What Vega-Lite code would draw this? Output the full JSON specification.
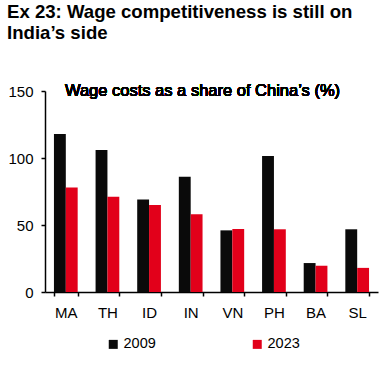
{
  "$schema": "https://vega.github.io/schema/vega-lite/v6.json",
  "width": 333,
  "height": 201,
  "autosize": {"type": "none"},
  "padding": {"left": 45, "top": 91, "right": 11, "bottom": 74},
  "background": "white",
  "title": {
    "text": ["Ex 23: Wage competitiveness is still on", "India’s side"],
    "anchor": "start",
    "frame": "group",
    "orient": "top",
    "font": "Liberation Sans",
    "fontSize": 18.6,
    "fontWeight": "bold",
    "lineHeight": 21,
    "color": "black",
    "dx": -38,
    "offset": 40
  },
  "config": {
    "view": {"stroke": null},
    "font": "Liberation Sans"
  },
  "data": {
    "values": [
      {"country": "MA", "year": "2009", "value": 118},
      {"country": "MA", "year": "2023", "value": 78},
      {"country": "TH", "year": "2009", "value": 106},
      {"country": "TH", "year": "2023", "value": 71},
      {"country": "ID", "year": "2009", "value": 69},
      {"country": "ID", "year": "2023", "value": 65},
      {"country": "IN", "year": "2009", "value": 86},
      {"country": "IN", "year": "2023", "value": 58},
      {"country": "VN", "year": "2009", "value": 46},
      {"country": "VN", "year": "2023", "value": 47},
      {"country": "PH", "year": "2009", "value": 101.5},
      {"country": "PH", "year": "2023", "value": 46.8},
      {"country": "BA", "year": "2009", "value": 21.6},
      {"country": "BA", "year": "2023", "value": 19.6},
      {"country": "SL", "year": "2009", "value": 46.8},
      {"country": "SL", "year": "2023", "value": 18}
    ]
  },
  "layer": [
    {
      "mark": {"type": "bar"},
      "encoding": {
        "x": {
          "field": "country",
          "type": "nominal",
          "sort": null,
          "scale": {"paddingInner": 0.43, "paddingOuter": 0.215},
          "axis": {
            "title": null,
            "labelAngle": 0,
            "labelFont": "Liberation Sans",
            "labelFontSize": 15,
            "labelColor": "black",
            "labelPadding": 9,
            "domainColor": "black",
            "domainWidth": 1.5,
            "tickColor": "black",
            "tickWidth": 1.5,
            "tickSize": 4,
            "tickBand": "extent"
          }
        },
        "xOffset": {"field": "year", "type": "nominal", "scale": {"paddingInner": 0, "paddingOuter": 0}},
        "y": {
          "field": "value",
          "type": "quantitative",
          "scale": {"domain": [0, 150], "nice": false},
          "axis": {
            "title": null,
            "values": [0, 50, 100, 150],
            "grid": false,
            "labelFont": "Liberation Sans",
            "labelFontSize": 15,
            "labelColor": "black",
            "labelPadding": 8,
            "domainColor": "black",
            "domainWidth": 1.5,
            "tickColor": "black",
            "tickWidth": 1.5,
            "tickSize": 4
          }
        },
        "color": {
          "field": "year",
          "type": "nominal",
          "scale": {"domain": ["2009", "2023"], "range": ["#0a0a0a", "#e2001a"]},
          "legend": {
            "title": null,
            "orient": "none",
            "direction": "horizontal",
            "legendX": 61,
            "legendY": 246,
            "symbolType": "square",
            "symbolSize": 81,
            "symbolStrokeWidth": 0,
            "labelFont": "Liberation Sans",
            "labelFontSize": 14.5,
            "labelColor": "black",
            "labelOffset": 3,
            "columnPadding": 94
          }
        }
      }
    },
    {
      "mark": {
        "type": "text",
        "text": "Wage costs as a share of China’s (%)",
        "x": {"expr": "width/2"},
        "dx": -9,
        "font": "Liberation Sans",
        "fontSize": 16.5,
        "color": "black",
        "baseline": "middle",
        "align": "center"
      },
      "encoding": {
        "y": {"datum": 150, "type": "quantitative"}
      }
    }
  ]
}
